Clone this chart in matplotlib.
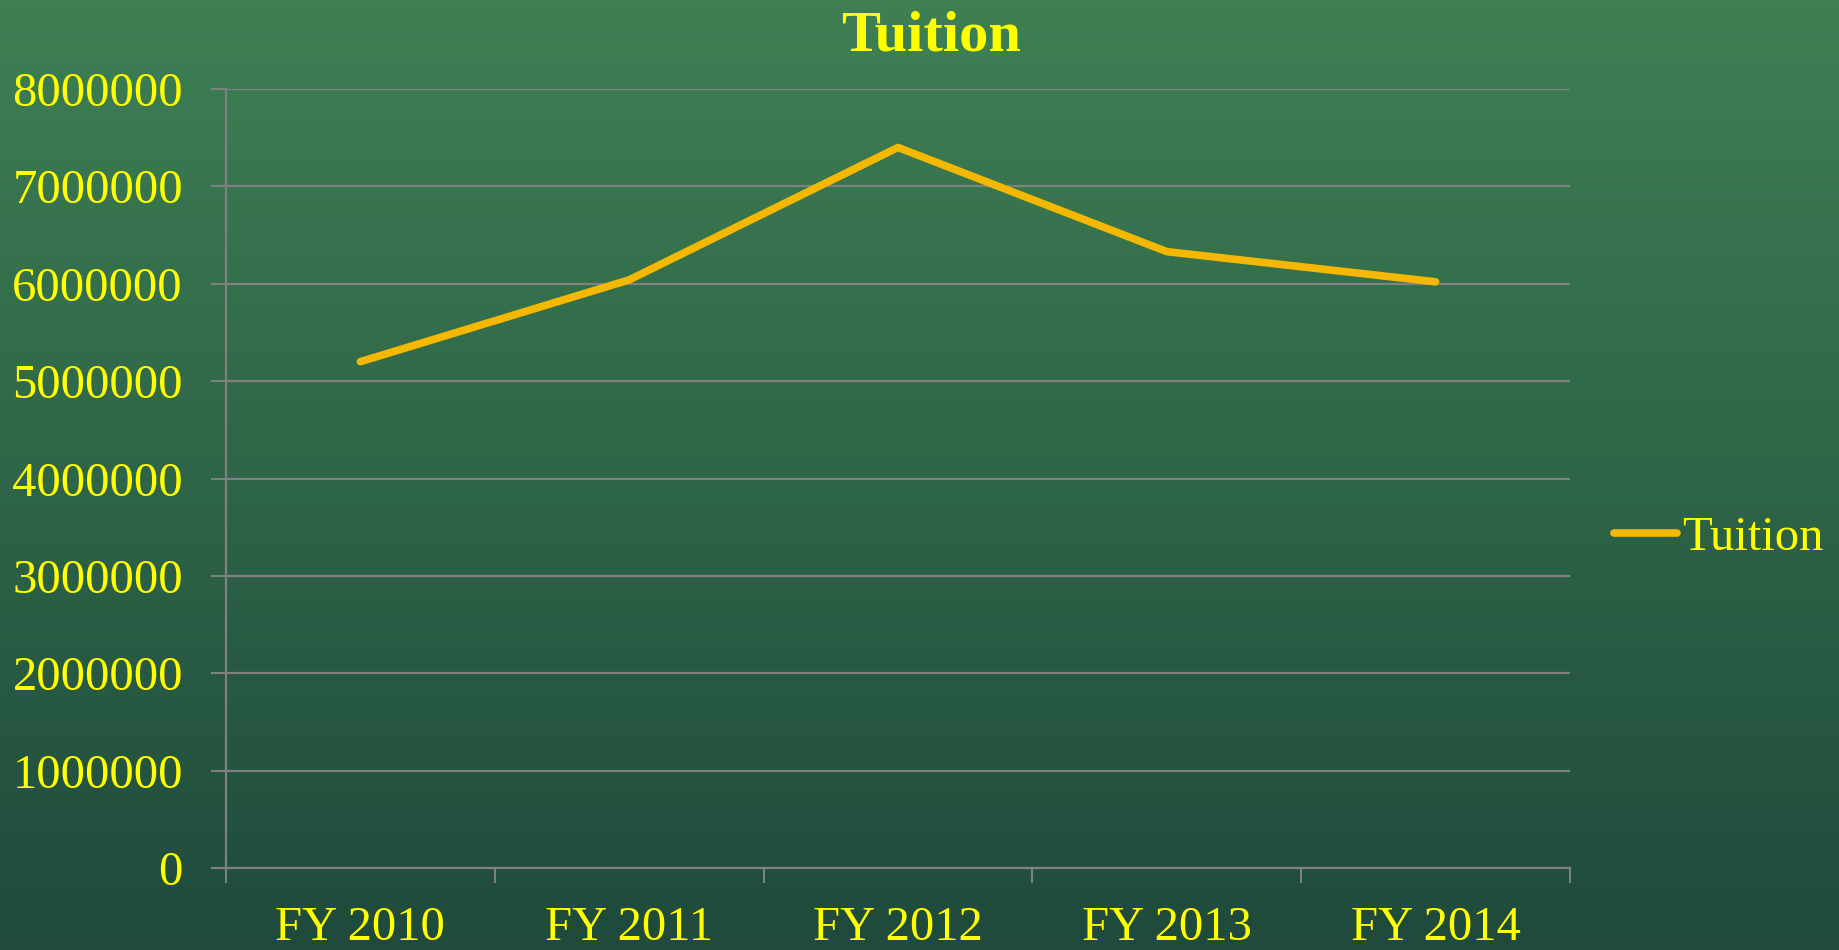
import matplotlib
matplotlib.use("Agg")
import matplotlib.pyplot as plt
import numpy as np

# data
years = ["FY 2010", "FY 2011", "FY 2012", "FY 2013", "FY 2014"]
tuition = [5200000, 6040000, 7400000, 6330000, 6020000]
yticks = [0, 1000000, 2000000, 3000000, 4000000, 5000000, 6000000, 7000000, 8000000]

plt.rcParams['font.family'] = ['Liberation Serif', 'DejaVu Serif']
yellow = '#FFFF00'
line_col = '#F5B800'
grid_col = '#808080'

fig = plt.figure(figsize=(18.39, 9.5), dpi=100)

# green chalkboard-style background gradient
bg = fig.add_axes([0, 0, 1, 1], zorder=-10)
top = np.array([0x3E, 0x80, 0x54]) / 255
bot = np.array([0x1F, 0x4A, 0x3C]) / 255
t = np.linspace(0, 1, 256)[:, None]
grad = top[None, :] * (1 - t) + bot[None, :] * t
bg.imshow(grad[:, None, :], aspect='auto', extent=[0, 1, 0, 1])
bg.axis('off')

ax = fig.add_axes([0.1229, 0.0863, 0.7308, 0.82])
ax.set_facecolor('none')

x = np.arange(len(years)) + 0.5
ax.plot(x, tuition, color=line_col, lw=5.5, solid_capstyle='round',
        solid_joinstyle='round', label='Tuition', zorder=3)

ax.set_xlim(0, len(years))
ax.set_ylim(0, 8000000)
ax.set_yticks(yticks)
ax.set_yticklabels([str(v) for v in yticks])
ax.set_xticks(np.arange(len(years) + 1))
ax.set_xticklabels([])
ax.set_xticks(x, minor=True)
ax.set_xticklabels(years, minor=True)
ax.tick_params(axis='x', which='minor', length=0, pad=27, labelsize=35, labelcolor=yellow)
ax.tick_params(axis='x', which='major', length=11, width=1.5, color=grid_col, direction='out')
ax.tick_params(axis='y', length=11, width=1.5, color=grid_col, pad=20, labelsize=35, labelcolor=yellow)
ax.grid(axis='y', color=grid_col, lw=1.6)
for s in ['top', 'right']:
    ax.spines[s].set_visible(False)
ax.spines['left'].set_color(grid_col)
ax.spines['bottom'].set_color(grid_col)
ax.spines['left'].set_linewidth(1.6)
ax.spines['bottom'].set_linewidth(1.6)

fig.text(0.506, 0.962, 'Tuition', ha='center', va='center', fontsize=42,
         fontweight='bold', color=yellow)

leg = ax.legend(loc='center left', bbox_to_anchor=(1.0, 0.424), frameon=False,
                fontsize=35, handlelength=1.3, handletextpad=0.1,
                labelcolor=yellow)

fig.savefig('out.png', dpi=100)
